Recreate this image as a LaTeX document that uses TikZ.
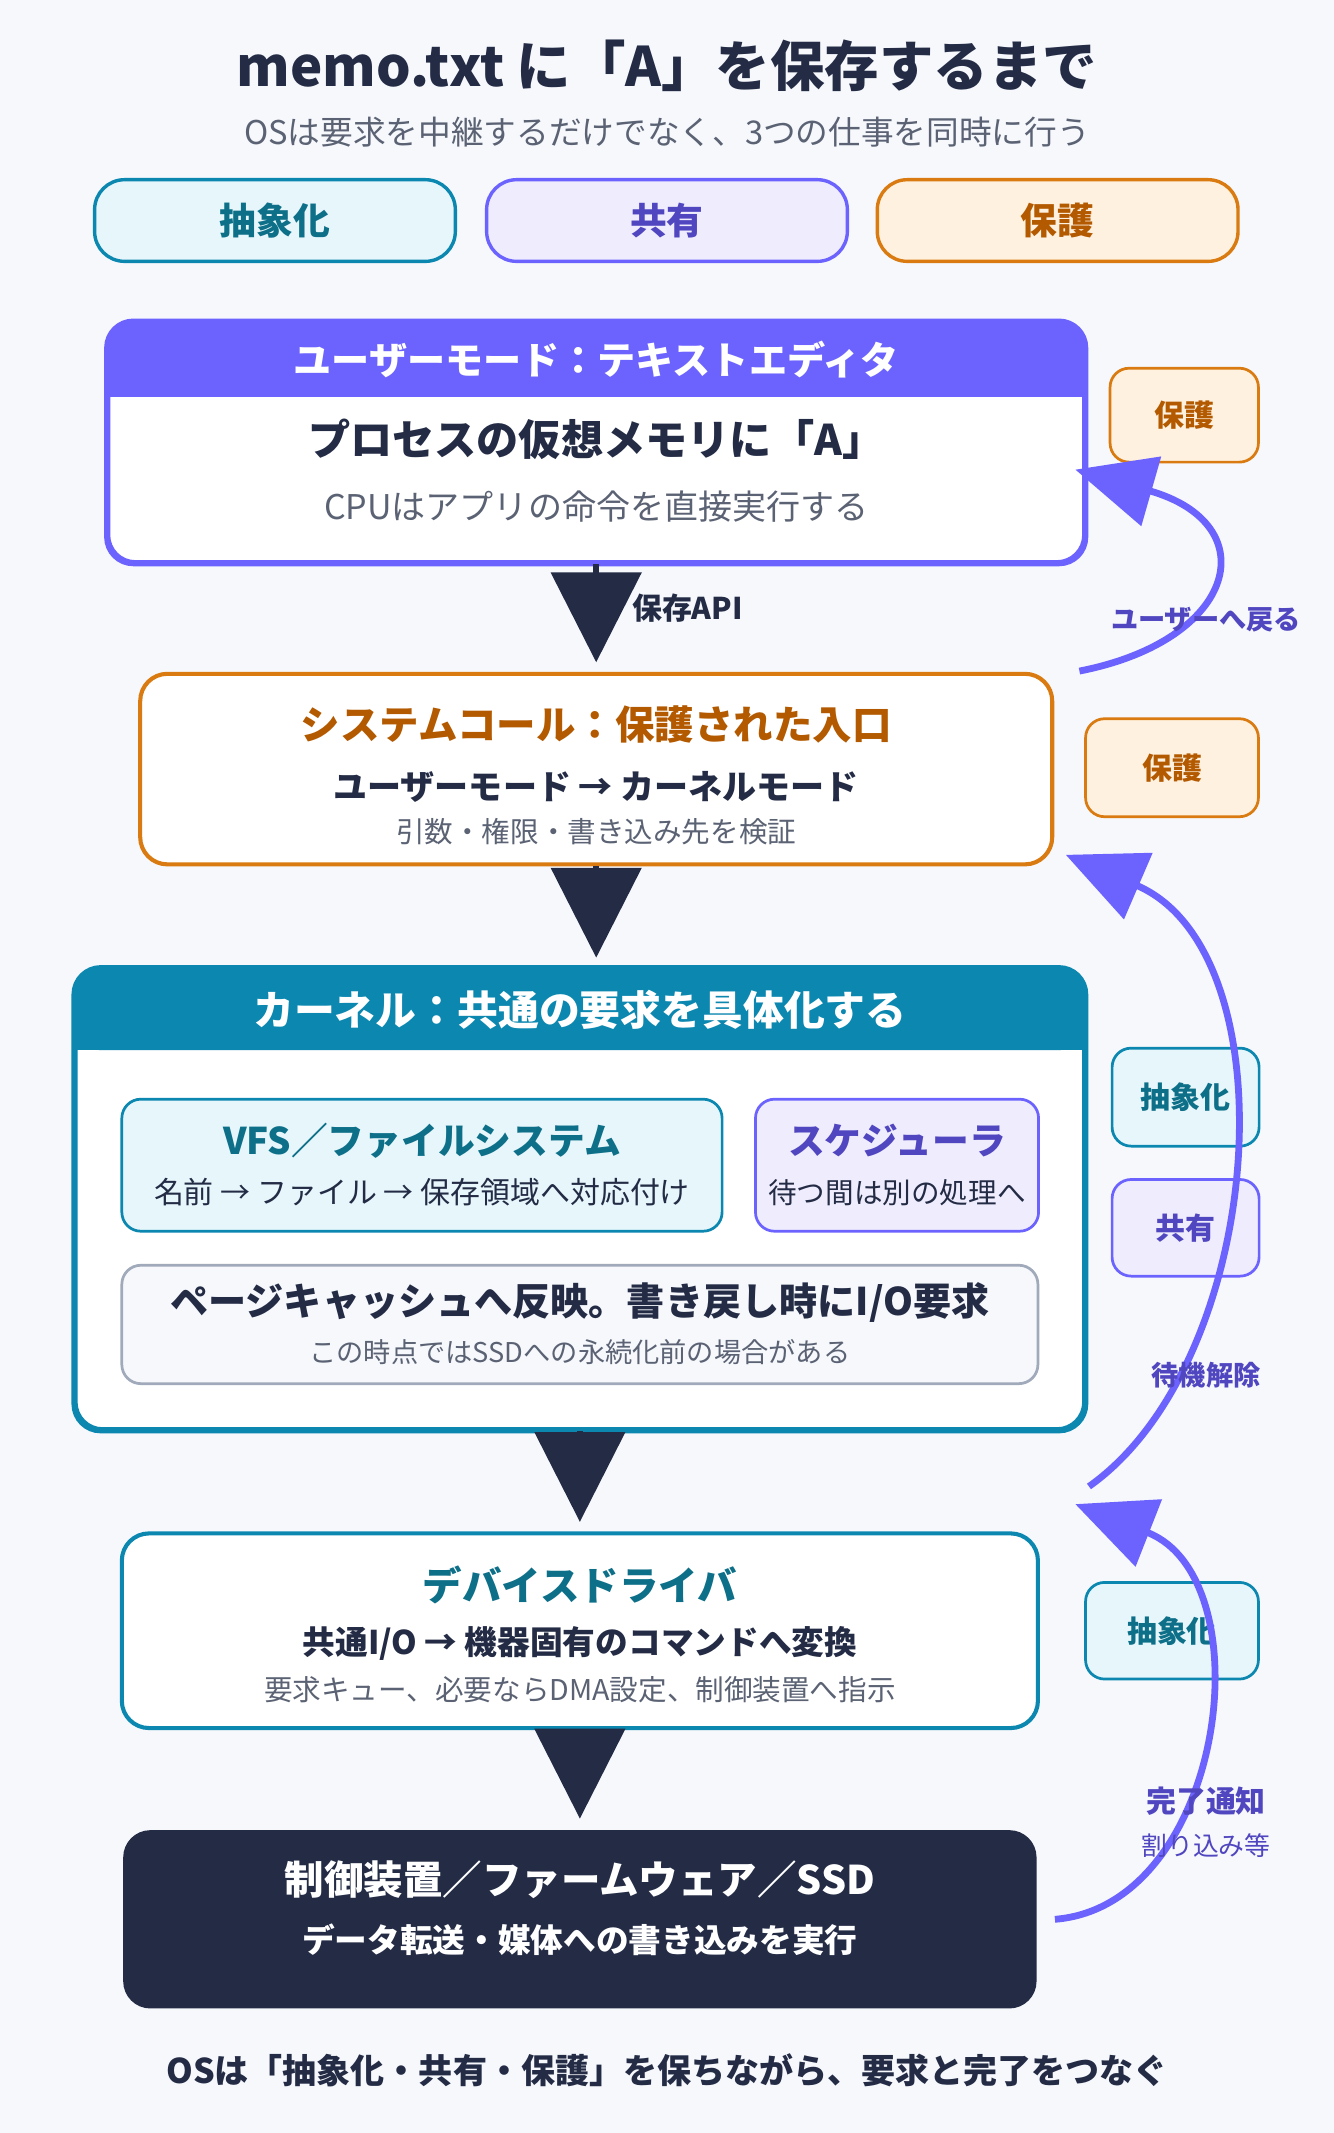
\documentclass[tikz,border=0pt]{standalone}
\usepackage{fontspec}
\setmainfont{Noto Sans CJK JP}
\usetikzlibrary{arrows.meta,positioning}
\definecolor{cBg}{HTML}{F6F8FC}
\definecolor{cNavy}{HTML}{232B45}
\definecolor{cGray}{HTML}{5A6273}
\definecolor{cPurple}{HTML}{6C63FF}
\definecolor{cPurpleT}{HTML}{5046C0}
\definecolor{cPurpleF}{HTML}{EFEDFD}
\definecolor{cTeal}{HTML}{0B87B0}
\definecolor{cTealT}{HTML}{0D6F88}
\definecolor{cTealF}{HTML}{E6F6FB}
\definecolor{cOrange}{HTML}{D97B10}
\definecolor{cOrangeT}{HTML}{B35A00}
\definecolor{cOrangeF}{HTML}{FFF1E0}
\definecolor{cSlate}{HTML}{A0AABB}

\tikzset{
    box/.style={draw, line width=3pt, rounded corners=20pt, fill=white, inner sep=0pt},
    pill/.style={draw, line width=2.5pt, rounded corners=22pt, inner sep=0pt, font=\fontsize{27}{30}\selectfont\bfseries},
    tag/.style={draw, line width=2pt, rounded corners=14pt, inner sep=0pt, font=\fontsize{22}{26}\selectfont\bfseries},
    big/.style={font=\fontsize{29}{34}\selectfont\bfseries},
    mid/.style={font=\fontsize{24}{28}\selectfont\bfseries},
    small/.style={font=\fontsize{21}{25}\selectfont, text=cGray},
    down/.style={draw=cNavy, line width=4pt, -{Triangle[length=66pt,width=66pt]}, shorten >=7pt},
    back/.style={draw=cPurple, line width=5pt, -{Triangle[length=58pt,width=52pt]}},
    side/.style={font=\fontsize{20}{22}\selectfont\bfseries, text=cPurpleT}
}

\begin{document}
\begin{tikzpicture}[x=1pt,y=-1pt]
    \fill[cBg] (0,0) rectangle (980,1567);
    \useasboundingbox (0,0) rectangle (980,1567);

    % title
    \node[font=\fontsize{40}{46}\selectfont\bfseries, text=cNavy] (title) at (490,48) {memo.txt に「A」を保存するまで};
    \node[font=\fontsize{24}{28}\selectfont, text=cGray] (sub) at (490,97) {OSは要求を中継するだけでなく、3つの仕事を同時に行う};

    % pills
    \node[pill, draw=cTeal, fill=cTealF, text=cTealT, minimum width=265pt, minimum height=60pt] (pAbs) at (202,162) {抽象化};
    \node[pill, draw=cPurple, fill=cPurpleF, text=cPurpleT, minimum width=265pt, minimum height=60pt] (pShare) at (490,162) {共有};
    \node[pill, draw=cOrange, fill=cOrangeF, text=cOrangeT, minimum width=265pt, minimum height=60pt] (pProt) at (777,162) {保護};

    % user mode
    \node[box, draw=cPurple, minimum width=717pt, minimum height=176pt] (user) at (438,325) {};
    \fill[cPurple, rounded corners=20pt] (user.north west) rectangle ([yshift=-56pt]user.north east);
    \fill[cPurple] ([yshift=-30pt]user.north west) rectangle ([yshift=-56pt]user.north east);
    \draw[cPurple, line width=3pt, rounded corners=20pt] (user.north west) rectangle (user.south east);
    \node[mid, font=\fontsize{28}{32}\selectfont\bfseries, text=white] (userHead) at (438,264) {ユーザーモード：テキストエディタ};
    \node[big, font=\fontsize{31}{36}\selectfont\bfseries, text=cNavy] (userMain) at (438,323) {プロセスの仮想メモリに「A」};
    \node[small, font=\fontsize{25}{29}\selectfont] (userSub) at (438,372) {CPUはアプリの命令を直接実行する};

    % system call
    \node[box, draw=cOrange, minimum width=670pt, minimum height=140pt] (sys) at (438,565) {};
    \node[big, text=cOrangeT] (sysHead) at (438,532) {システムコール：保護された入口};
    \node[mid, font=\fontsize{25}{29}\selectfont\bfseries, text=cNavy] (sysMain) at (438,578) {ユーザーモード → カーネルモード};
    \node[small] (sysSub) at (438,611) {引数・権限・書き込み先を検証};

    % kernel
    \node[box, draw=cTeal, minimum width=741pt, minimum height=338pt] (kern) at (426,881) {};
    \fill[cTeal, rounded corners=20pt] (kern.north west) rectangle ([yshift=-61pt]kern.north east);
    \fill[cTeal] ([yshift=-30pt]kern.north west) rectangle ([yshift=-61pt]kern.north east);
    \draw[cTeal, line width=3pt, rounded corners=20pt] (kern.north west) rectangle (kern.south east);
    \node[big, font=\fontsize{30}{35}\selectfont\bfseries, text=white] (kernHead) at (426,742) {カーネル：共通の要求を具体化する};

    \node[box, line width=2pt, draw=cTeal, fill=cTealF, rounded corners=14pt, minimum width=441pt, minimum height=97pt] (vfs) at (310,856) {};
    \node[big, font=\fontsize{27}{32}\selectfont\bfseries, text=cTealT] (vfsHead) at (310,838) {VFS／ファイルシステム};
    \node[small, font=\fontsize{22}{26}\selectfont, text=cNavy] (vfsSub) at (310,876) {名前 → ファイル → 保存領域へ対応付け};

    \node[box, line width=2pt, draw=cPurple, fill=cPurpleF, rounded corners=14pt, minimum width=208pt, minimum height=97pt] (sched) at (659,856) {};
    \node[big, font=\fontsize{27}{32}\selectfont\bfseries, text=cPurpleT] (schedHead) at (659,838) {スケジューラ};
    \node[small, text=cNavy] (schedSub) at (659,876) {待つ間は別の処理へ};

    \node[box, line width=2pt, draw=cSlate, fill=cBg, rounded corners=14pt, minimum width=673pt, minimum height=87pt] (cache) at (426,973) {};
    \node[big, font=\fontsize{28}{32}\selectfont\bfseries, text=cNavy] (cacheMain) at (426,957) {ページキャッシュへ反映。書き戻し時にI/O要求};
    \node[small, font=\fontsize{20}{23}\selectfont] (cacheSub) at (426,993) {この時点ではSSDへの永続化前の場合がある};

    % device driver
    \node[box, draw=cTeal, minimum width=673pt, minimum height=143pt] (drv) at (426,1198) {};
    \node[big, text=cTealT] (drvHead) at (426,1164) {デバイスドライバ};
    \node[mid, text=cNavy] (drvMain) at (426,1207) {共通I/O → 機器固有のコマンドへ変換};
    \node[small] (drvSub) at (426,1241) {要求キュー、必要ならDMA設定、制御装置へ指示};

    % hardware
    \node[box, draw=none, fill=cNavy, minimum width=671pt, minimum height=131pt] (hw) at (426,1410) {};
    \node[big, text=white] (hwHead) at (426,1381) {制御装置／ファームウェア／SSD};
    \node[mid, text=white] (hwMain) at (426,1425) {データ転送・媒体への書き込みを実行};

    \node[mid, font=\fontsize{25}{29}\selectfont\bfseries, text=cNavy] (foot) at (490,1521) {OSは「抽象化・共有・保護」を保ちながら、要求と完了をつなぐ};

    % downward flow
    \draw[down] (user.south) -- (sys.north);
    \node[mid, font=\fontsize{22}{26}\selectfont\bfseries, text=cNavy] (apiLbl) at (505,447) {保存API};
    \draw[down] (sys.south) -- ([xshift=12pt]kern.north);
    \draw[down] (kern.south) -- (drv.north);
    \draw[down] (drv.south) -- (hw.north);

    % side tags
    \node[tag, draw=cOrange, fill=cOrangeF, text=cOrangeT, minimum width=109pt, minimum height=69pt] (tProt1) at (870,305) {保護};
    \node[tag, draw=cOrange, fill=cOrangeF, text=cOrangeT, minimum width=127pt, minimum height=72pt] (tProt2) at (861,564) {保護};
    \node[tag, draw=cTeal, fill=cTealF, text=cTealT, minimum width=108pt, minimum height=72pt] (tAbs1) at (871,806) {抽象化};
    \node[tag, draw=cPurple, fill=cPurpleF, text=cPurpleT, minimum width=108pt, minimum height=71pt] (tShare) at (871,902) {共有};
    \node[tag, draw=cTeal, fill=cTealF, text=cTealT, minimum width=127pt, minimum height=71pt] (tAbs2) at (861,1198) {抽象化};

    % returning arrows
    \coordinate (r1s) at (793,493);
    \coordinate (r1e) at (790,345);
    \coordinate (r2s) at (800,1092);
    \coordinate (r2e) at (783,628);
    \coordinate (r3s) at (775,1410);
    \coordinate (r3e) at (790,1105);
    \draw[back] (r1s) .. controls (910,470) and (930,385) .. (r1e);
    \draw[back] (r2s) .. controls (930,1000) and (950,700) .. (r2e);
    \draw[back] (r3s) .. controls (900,1400) and (930,1160) .. (r3e);

    \node[side] (lblBack) at (886,455) {ユーザーへ戻る};
    \node[side] (lblWake) at (886,1010) {待機解除};
    \node[side, font=\fontsize{22}{26}\selectfont\bfseries] (lblDone) at (886,1323) {完了通知};
    \node[side, font=\fontsize{19}{21}\selectfont] (lblIrq) at (886,1356) {割り込み等};
\end{tikzpicture}
\end{document}
